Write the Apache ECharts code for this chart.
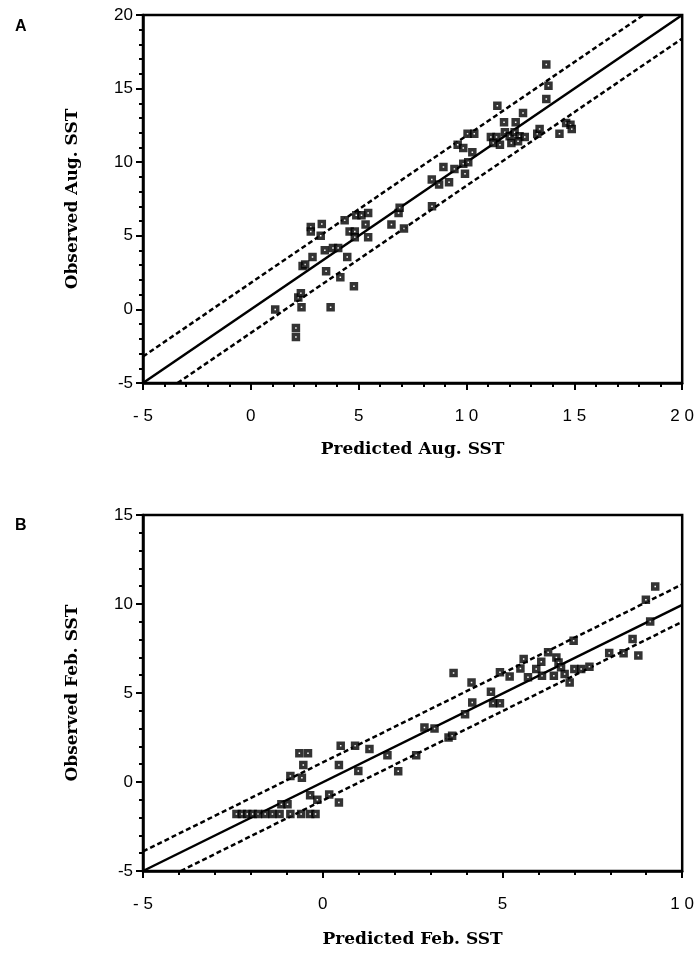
<!DOCTYPE html>
<html>
<head>
<meta charset="utf-8">
<script src="https://cdn.jsdelivr.net/npm/echarts@6/dist/echarts.min.js"></script>
<style>
  html, body { margin: 0; padding: 0; background: #fff; }
  #chart { width: 697px; height: 954px; }
</style>
</head>
<body>
<div id="chart"></div>
<script>
// panel A: August SST
const predA = [1.13, 2.09, 2.09, 2.2, 2.32, 2.35, 2.4, 2.52, 2.78, 2.78, 2.86, 3.24, 3.29, 3.43, 3.49, 3.7, 3.81, 4.05, 4.15, 4.35,
  4.47, 4.58, 4.78, 4.82, 4.82, 4.89, 5.13, 5.32, 5.44, 5.44, 6.52, 6.85, 6.9, 7.1, 8.4,
  8.39, 8.73, 9.19, 8.93, 9.44, 9.85, 10.08, 9.93, 9.59, 9.85, 10.27, 10.05, 10.36, 11.13, 11.39, 11.78, 12.0, 12.23, 12.46, 12.7,
  11.24, 11.55, 12.08, 12.39, 11.74, 12.28, 11.43, 12.62, 13.28, 13.39, 14.31, 14.62, 14.82, 14.88, 13.7, 13.8, 13.7];
const obsA = [0.0, -1.26, -1.87, 0.8, 1.1, 0.15, 2.95, 3.05, 5.6, 5.3, 3.56, 5.0, 5.8, 4.02, 2.6, 0.15, 4.17, 4.17, 2.18, 6.06,
  3.56, 5.3, 1.57, 5.3, 4.9, 6.4, 6.4, 5.76, 6.55, 4.9, 5.76, 6.55, 6.9, 5.5, 7.0,
  8.82, 8.48, 8.64, 9.68, 9.54, 9.9, 10.0, 9.22, 11.19, 10.97, 10.68, 11.94, 11.94, 11.72, 11.72, 12.04, 11.76, 12.04, 11.76, 11.72,
  11.31, 11.19, 11.31, 11.42, 12.71, 12.71, 13.84, 13.35, 11.94, 12.26, 11.94, 12.67, 12.55, 12.26, 14.3, 15.2, 16.63];
const fitA = [[-5, -5], [20, 20]];
const upperA = [[-5, -3.2], [18.2, 20]];
const lowerA = [[-3.4, -5], [20, 18.4]];

// panel B: February SST
const predB = [-2.4, -2.25, -2.1, -1.95, -1.8, -1.6, -1.4, -1.2, -0.9, -0.6, -0.35, -0.2,
  -1.15, -0.98, -0.35, -0.15, 0.18, 0.45,
  -0.9, -0.58, -0.54, -0.65, -0.41, 0.45, 0.5, 0.9, 0.99, 1.3, 1.8, 2.1, 2.6, 2.83, 3.11, 3.5, 3.6,
  3.64, 3.96, 4.14, 4.16, 4.68, 4.74, 4.93, 4.93, 5.2, 5.5, 5.59, 5.71, 5.94, 6.08, 6.1, 6.27, 6.43, 6.5, 6.56, 6.63, 6.73, 6.87,
  6.98, 7.0, 7.19, 7.42, 7.97, 8.37, 8.62, 8.78, 9.11, 8.99, 9.25];
const obsB = [-1.8, -1.8, -1.8, -1.8, -1.8, -1.8, -1.8, -1.8, -1.8, -1.8, -1.8, -1.8,
  -1.25, -1.25, -0.75, -1.0, -0.7, -1.15,
  0.34, 0.24, 0.96, 1.61, 1.61, 0.96, 2.03, 2.03, 0.62, 1.85, 1.5, 0.6, 1.5, 3.06, 3.0, 2.5, 2.6,
  6.12, 3.81, 5.59, 4.47, 5.07, 4.43, 4.43, 6.16, 5.92, 6.38, 6.91, 5.88, 6.35, 6.76, 5.97, 7.29, 5.97, 7.0, 6.72, 6.44, 6.07, 5.59,
  7.94, 6.35, 6.35, 6.48, 7.25, 7.23, 8.04, 7.1, 9.01, 10.24, 10.99];
const fitB = [[-5, -5], [10, 9.95]];
const upperB = [[-5, -3.9], [10, 11.1]];
const lowerB = [[-3.95, -5], [10, 9.0]];

const xTicksA = {'-5': '- 5', '0': '0', '5': '5', '10': '1 0', '15': '1 5', '20': '2 0'};
const xTicksB = {'-5': '- 5', '0': '0', '5': '5', '10': '1 0'};

const zip = (xs, ys) => xs.map((x, i) => [x, ys[i]]);

const chart = echarts.init(document.getElementById('chart'));

const tick = {show: true, length: 7, lineStyle: {color: '#000', width: 2}};
const minor = {show: true, splitNumber: 5, length: 4, lineStyle: {color: '#000', width: 2}};

function xAxis(idx, max, ticks, name, gap) {
  return {
    gridIndex: idx, type: 'value', min: -5, max: max, interval: 5,
    name: name, nameLocation: 'middle', nameGap: gap,
    nameTextStyle: {fontFamily: 'DejaVu Serif', fontWeight: 'bold', fontSize: 17, color: '#000'},
    axisLine: {show: true, onZero: false, lineStyle: {color: '#000', width: 2.5}},
    axisTick: tick,
    minorTick: minor,
    axisLabel: {margin: 25, fontFamily: 'Liberation Sans', fontSize: 17, color: '#000',
      formatter: v => ticks[String(v)]},
    splitLine: {show: false}
  };
}
function yAxis(idx, min, max, name) {
  return {
    gridIndex: idx, type: 'value', min: min, max: max, interval: 5,
    name: name, nameLocation: 'middle', nameGap: 62,
    nameTextStyle: {fontFamily: 'DejaVu Serif', fontWeight: 'bold', fontSize: 17, color: '#000'},
    axisLine: {show: true, onZero: false, lineStyle: {color: '#000', width: 2.5}},
    axisTick: tick,
    minorTick: minor,
    axisLabel: {margin: 10, fontFamily: 'Liberation Sans', fontSize: 17, color: '#000'},
    splitLine: {show: false}
  };
}
function pts(idx, data) {
  return {
    type: 'scatter', xAxisIndex: idx, yAxisIndex: idx, data: data,
    symbol: 'rect', symbolSize: 5, silent: true, z: 5,
    itemStyle: {color: '#fff', borderColor: '#000', borderWidth: 3.5}
  };
}
function line(idx, data, dashed) {
  return {
    type: 'line', xAxisIndex: idx, yAxisIndex: idx, data: data,
    symbol: 'none', silent: true, animation: false,
    lineStyle: {color: '#000', width: 2.5, type: dashed ? [5, 3] : 'solid'}
  };
}

chart.setOption({
  animation: false,
  title: [
    {text: 'A', left: 10, top: 14, textStyle: {fontFamily: 'Liberation Sans', fontSize: 16, fontWeight: 'bold', color: '#000'}},
    {text: 'B', left: 10, top: 513, textStyle: {fontFamily: 'Liberation Sans', fontSize: 16, fontWeight: 'bold', color: '#000'}}
  ],
  grid: [
    {left: 143, top: 15, width: 542, height: 368, show: true, borderColor: '#000', borderWidth: 2.5},
    {left: 143, top: 515, width: 542, height: 356, show: true, borderColor: '#000', borderWidth: 2.5}
  ],
  xAxis: [
    xAxis(0, 20, xTicksA, 'Predicted Aug. SST', 58),
    xAxis(1, 10, xTicksB, 'Predicted Feb. SST', 60)
  ],
  yAxis: [
    yAxis(0, -5, 20, 'Observed Aug. SST'),
    yAxis(1, -5, 15, 'Observed Feb. SST')
  ],
  series: [
    line(0, fitA, false), line(0, upperA, true), line(0, lowerA, true), pts(0, zip(predA, obsA)),
    line(1, fitB, false), line(1, upperB, true), line(1, lowerB, true), pts(1, zip(predB, obsB))
  ]
});
</script>
</body>
</html>
